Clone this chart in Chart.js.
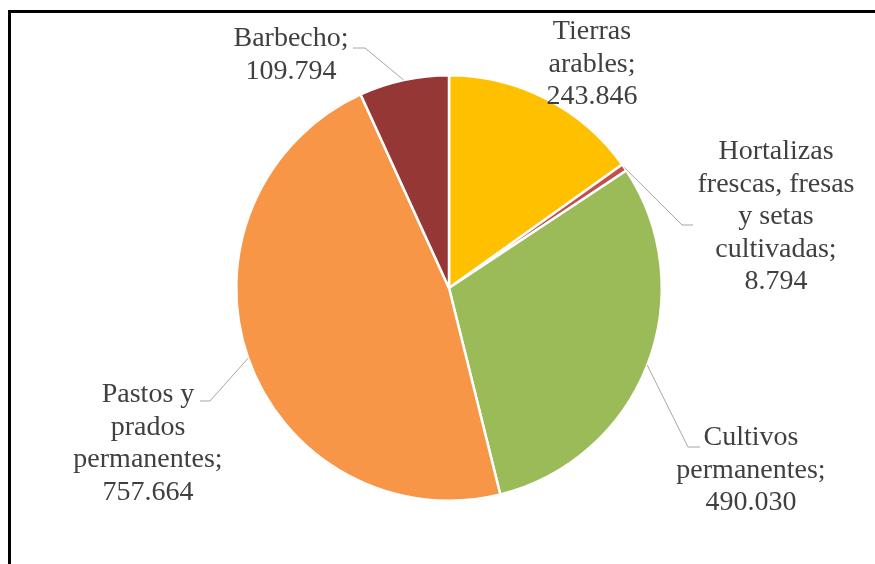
<!DOCTYPE html>
<html>
<head>
<meta charset="utf-8">
<script src="https://cdn.jsdelivr.net/npm/chart.js@4/dist/chart.umd.min.js"></script>
<style>
  html, body { margin: 0; padding: 0; background: #fff; overflow: hidden; }
  #wrap { position: relative; width: 875px; height: 564px; }
  #frame { position: absolute; left: 8px; top: 10px; width: 900px; height: 600px; border: 3px solid #000; pointer-events: none; }
  canvas { position: absolute; left: 0; top: 0; }
</style>
</head>
<body>
<div id="wrap">
  <canvas id="pieChart" width="875" height="564"></canvas>
  <div id="frame"></div>
</div>
<script>
// ---------------- Data ----------------
const categories = [
  "Tierras arables",
  "Hortalizas frescas, fresas y setas cultivadas",
  "Cultivos permanentes",
  "Pastos y prados permanentes",
  "Barbecho"
];
const values = [243846, 8794, 490030, 757664, 109794];
const colors = ["#FFC000", "#C0504D", "#9BBB59", "#F79646", "#953735"];

// ---------------- Label layout ----------------
// cx / y0 = centre of first text line, maxW = wrap width, elbow/end = leader line
const labelLayout = [
  { cx: 592, y0: 32, maxW: 100 },
  { cx: 776, y0: 152, maxW: 175, elbow: [682, 225], end: [693, 225] },
  { cx: 751, y0: 438, maxW: 165, elbow: [688, 447], end: [700, 447] },
  { cx: 148, y0: 395, maxW: 165, elbow: [210, 401], end: [200, 401] },
  { cx: 291, y0: 39, maxW: 130, elbow: [365, 48], end: [353, 48] }
];

const FONT = "28px 'Liberation Serif', 'Times New Roman', serif";
const LINE_H = 32.5;

function fmt(n) {
  return String(n).replace(/\B(?=(\d{3})+(?!\d))/g, ".");
}

function wrapText(ctx, text, maxW) {
  const words = text.split(" ");
  const lines = [];
  let cur = "";
  words.forEach(w => {
    const test = cur ? cur + " " + w : w;
    if (cur && ctx.measureText(test).width > maxW) {
      lines.push(cur);
      cur = w;
    } else {
      cur = test;
    }
  });
  if (cur) lines.push(cur);
  return lines;
}

// ---------------- Labels plugin ----------------
const pieLabels = {
  id: "pieLabels",
  afterDraw(chart) {
    const ctx = chart.ctx;
    const meta = chart.getDatasetMeta(0);
    ctx.save();
    ctx.font = FONT;

    meta.data.forEach((arc, i) => {
      const lay = labelLayout[i];
      const p = arc.getProps(["x", "y", "startAngle", "endAngle", "outerRadius"], true);

      // leader line from slice edge
      if (lay.elbow) {
        const mid = (p.startAngle + p.endAngle) / 2;
        const ax = p.x + Math.cos(mid) * p.outerRadius;
        const ay = p.y + Math.sin(mid) * p.outerRadius;
        ctx.strokeStyle = "#A6A6A6";
        ctx.lineWidth = 1;
        ctx.beginPath();
        ctx.moveTo(ax, ay);
        ctx.lineTo(lay.elbow[0], lay.elbow[1]);
        ctx.lineTo(lay.end[0], lay.end[1]);
        ctx.stroke();
      }

      const text = categories[i] + "; " + fmt(values[i]);
      const lines = wrapText(ctx, text, lay.maxW);
      ctx.fillStyle = "#404040";
      ctx.textAlign = "center";
      ctx.textBaseline = "middle";
      lines.forEach((ln, k) => {
        ctx.fillText(ln, lay.cx, lay.y0 + k * LINE_H);
      });
    });
    ctx.restore();
  }
};

// ---------------- Chart ----------------
const ctx = document.getElementById("pieChart").getContext("2d");
const pieChart = new Chart(ctx, {
  type: "pie",
  data: {
    labels: categories,
    datasets: [{
      data: values,
      backgroundColor: colors,
      borderColor: "#FFFFFF",
      borderWidth: 2.5
    }]
  },
  options: {
    responsive: false,
    animation: false,
    devicePixelRatio: 1,
    layout: { padding: { left: 235, right: 212, top: 74, bottom: 62 } },
    plugins: {
      legend: { display: false },
      tooltip: { enabled: false }
    }
  },
  plugins: [pieLabels]
});
</script>
</body>
</html>
